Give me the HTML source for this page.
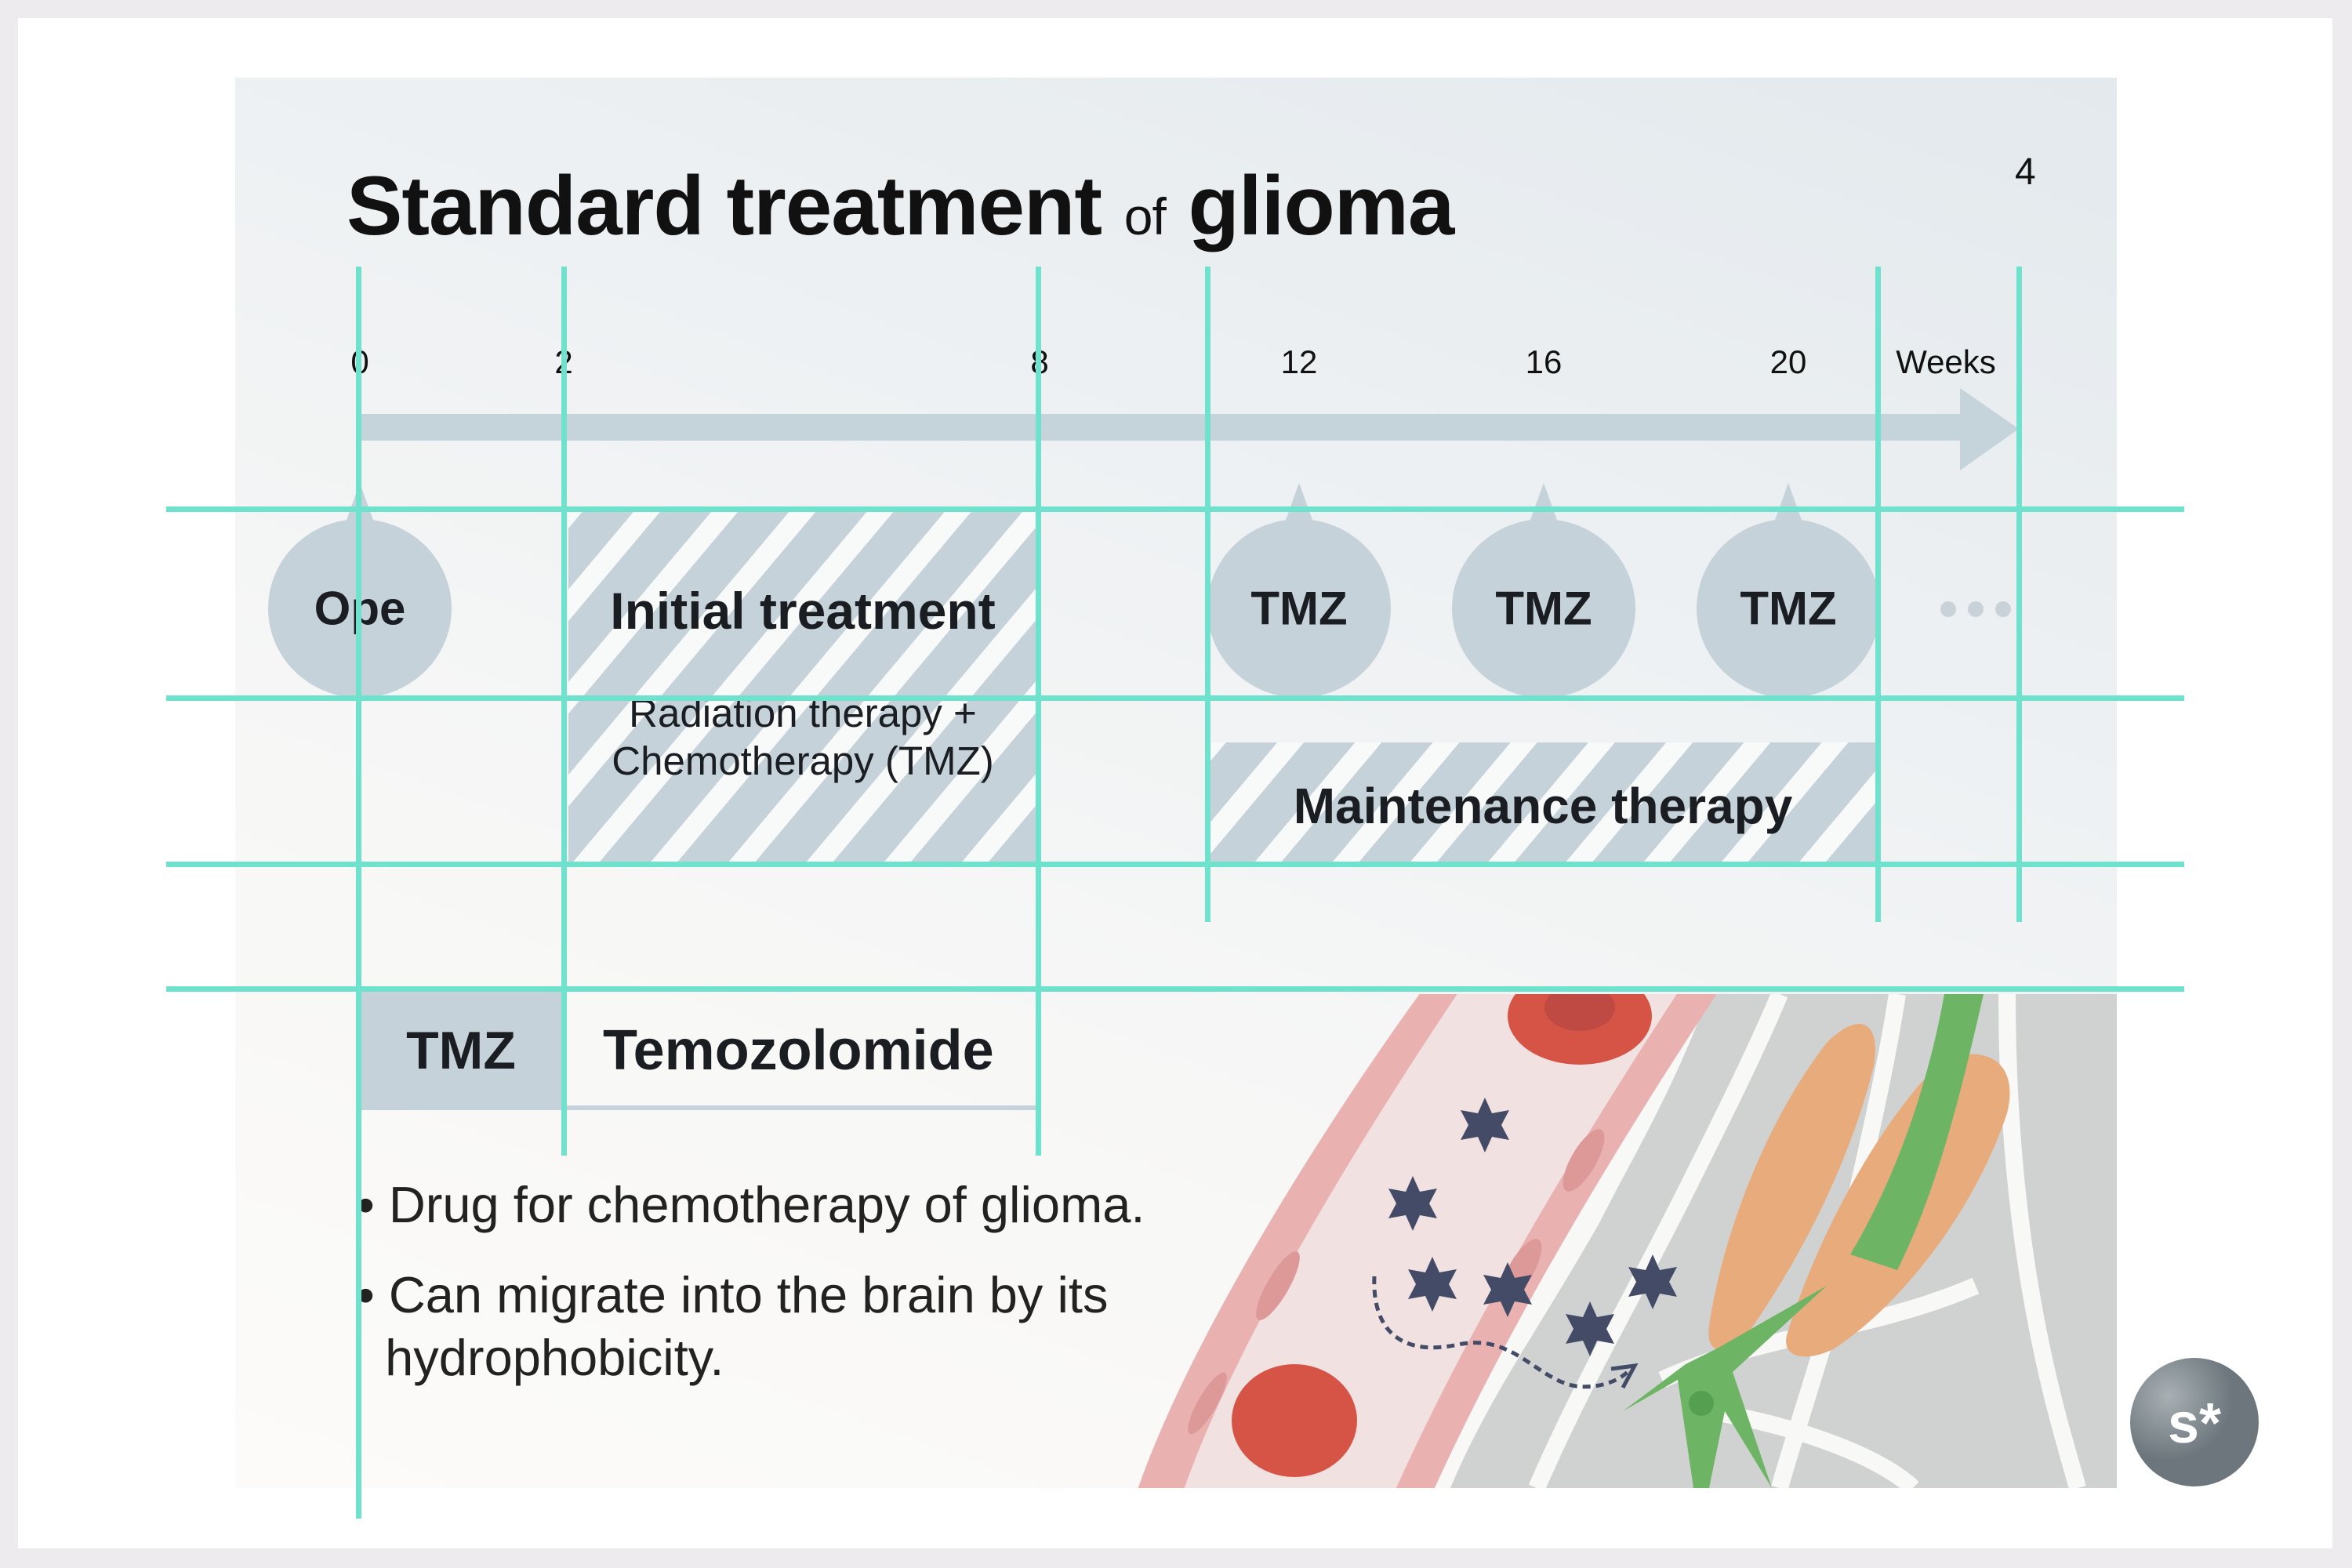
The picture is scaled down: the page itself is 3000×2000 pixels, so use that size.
<!DOCTYPE html>
<html><head><meta charset="utf-8"><style>
*{margin:0;padding:0;box-sizing:border-box}
body{width:3000px;height:2000px;background:#eeebee;position:relative;overflow:hidden;font-family:"Liberation Sans",sans-serif;color:#111}
.card{position:absolute;left:23px;top:23px;width:2952px;height:1952px;background:#fff}
.slide{position:absolute;left:300px;top:99px;width:2400px;height:1799px;background:linear-gradient(200deg,#e3e9ed 0%,#eef1f3 35%,#f7f7f6 65%,#fcfbf9 100%)}
.abs{position:absolute}
.vl{position:absolute;width:7px;background:#6ee2cd;margin-left:-3px}
.hl{position:absolute;height:7px;background:#6ee2cd;left:212px;width:2574px;margin-top:-3px}
.tick{position:absolute;top:438px;font-size:42px;transform:translateX(-50%)}
.circ{position:absolute;width:234px;height:228px;border-radius:50%;background:#c6d2d9;transform:translate(-50%,-50%);top:776px}
.tri{position:absolute;width:0;height:0;border-left:18px solid transparent;border-right:18px solid transparent;border-bottom:50px solid #c6d2d9;transform:translateX(-50%);top:616px}
.ctext{position:absolute;top:776px;transform:translate(-50%,-50%);font-size:60px;font-weight:bold;color:#1a1d22}
.hatch{position:absolute;background:repeating-linear-gradient(-50deg,#c6d2d9 0 50px,#f8f9f9 50px 76px)}
</style></head><body>
<div class="card"></div>
<div class="slide"></div>
<div class="abs" style="left:442px;top:200px;font-size:107px;font-weight:bold;color:#111;letter-spacing:-1px">Standard treatment <span style="font-weight:normal;font-size:66px">of</span> glioma</div>
<div class="abs" style="left:2570px;top:192px;font-size:48px">4</div>

<div class="abs" style="left:457px;top:528px;width:2060px;height:34px;background:#c5d3da"></div>
<svg class="abs" style="left:2500px;top:495px" width="80" height="105"><polygon points="0,0 75,52 0,105" fill="#c5d3da"/></svg>
<div class="tick" style="left:459px">0</div>
<div class="tick" style="left:719px">2</div>
<div class="tick" style="left:1326px">8</div>
<div class="tick" style="left:1657px">12</div>
<div class="tick" style="left:1969px">16</div>
<div class="tick" style="left:2281px">20</div>
<div class="tick" style="left:2482px">Weeks</div>

<div class="hatch" style="left:725px;top:652px;width:599px;height:450px"></div>
<div class="hatch" style="left:1544px;top:947px;width:848px;height:155px"></div>
<div class="abs" style="left:1024px;top:779px;transform:translate(-50%,-50%);font-size:66px;font-weight:bold;color:#1a1d22;white-space:nowrap">Initial treatment</div>
<div class="abs" style="left:1024px;top:940px;transform:translate(-50%,-50%);font-size:51px;color:#1a1d22;text-align:center;line-height:61px;white-space:nowrap">Radiation therapy +<br>Chemotherapy (TMZ)</div>
<div class="abs" style="left:1968px;top:1028px;transform:translate(-50%,-50%);font-size:64px;font-weight:bold;color:#1a1d22;white-space:nowrap">Maintenance therapy</div>

<div class="tri" style="left:459px"></div><div class="circ" style="left:459px"></div><div class="ctext" style="left:459px">Ope</div>
<div class="tri" style="left:1657px"></div><div class="circ" style="left:1657px"></div><div class="ctext" style="left:1657px">TMZ</div>
<div class="tri" style="left:1969px"></div><div class="circ" style="left:1969px"></div><div class="ctext" style="left:1969px">TMZ</div>
<div class="tri" style="left:2281px"></div><div class="circ" style="left:2281px"></div><div class="ctext" style="left:2281px">TMZ</div>
<svg class="abs" style="left:2470px;top:762px" width="110" height="30"><circle cx="15" cy="15" r="10" fill="#c9d2d8"/><circle cx="50" cy="15" r="10" fill="#c9d2d8"/><circle cx="85" cy="15" r="10" fill="#c9d2d8"/></svg>

<div class="abs" style="left:457px;top:1265px;width:262px;height:151px;background:#c6d2d9"></div>
<div class="abs" style="left:588px;top:1340px;transform:translate(-50%,-50%);font-size:68px;font-weight:bold;color:#1a1d22">TMZ</div>
<div class="abs" style="left:769px;top:1340px;transform:translateY(-50%);font-size:72px;font-weight:bold;color:#1a1d22">Temozolomide</div>
<div class="abs" style="left:719px;top:1410px;width:605px;height:6px;background:#c6d2d9"></div>

<div class="abs" style="left:455px;top:1498px;font-size:65px;color:#222;line-height:78px">• Drug for chemotherapy of glioma.</div>
<div class="abs" style="left:455px;top:1612px;font-size:65px;color:#222;line-height:80px">• Can migrate into the brain by its<br>&nbsp;&nbsp;hydrophobicity.</div>

<svg class="abs" style="left:0;top:0" width="3000" height="2000">
<defs><clipPath id="c"><rect x="1448" y="1268" width="1252" height="630"/></clipPath>
<radialGradient id="lg" cx="0.3" cy="0.3"><stop offset="0" stop-color="#a8b0b4"/><stop offset="1" stop-color="#6c767c"/></radialGradient></defs>
<g clip-path="url(#c)">
<polygon points="1860,1268 2700,1268 2700,1898 1900,1898" fill="#f8f8f6"/>
<path d="M1850,1898 C1900,1780 1960,1700 2040,1560 C2080,1480 2130,1400 2180,1268 L2700,1268 L2700,1898 Z" fill="#cfd2d1"/>
<g stroke="#f8f8f6" stroke-width="22" fill="none">
<path d="M1960,1898 C2020,1760 2080,1660 2150,1520 C2200,1420 2240,1340 2270,1268"/>
<path d="M2120,1760 C2250,1700 2380,1700 2520,1640"/>
<path d="M2420,1268 C2400,1400 2360,1550 2330,1700 C2300,1800 2280,1860 2270,1898"/>
<path d="M2560,1268 C2560,1400 2570,1550 2600,1700 C2620,1800 2640,1860 2650,1898"/>
<path d="M2180,1800 C2300,1820 2400,1860 2440,1898"/>
</g>
<path d="M2180,1690 C2200,1560 2260,1420 2330,1330 C2370,1290 2400,1300 2390,1360 C2360,1480 2300,1600 2230,1700 C2200,1730 2175,1730 2180,1690 Z" fill="#e8ab7c"/>
<path d="M2280,1700 C2320,1570 2400,1430 2470,1360 C2510,1330 2580,1340 2560,1420 C2520,1540 2430,1660 2340,1720 C2300,1740 2270,1730 2280,1700 Z" fill="#e8ab7c"/>
<path d="M2480,1268 L2530,1268 C2500,1400 2470,1520 2420,1620 L2360,1600 C2420,1500 2460,1380 2480,1268 Z" fill="#6db564"/>
<path d="M2160,1898 L2140,1760 L2070,1800 L2150,1740 L2190,1720 L2330,1640 L2210,1750 L2260,1898 L2200,1800 L2180,1898 Z" fill="#6db564"/>
<circle cx="2170" cy="1790" r="16" fill="#55a050"/>
<path d="M1451,1900 C1520,1700 1700,1420 1812,1266 L2191,1266 C2050,1480 1920,1700 1829,1900 Z" fill="#e9b2b1"/>
<path d="M1510,1900 C1580,1700 1750,1430 1860,1266 L2140,1266 C2000,1480 1870,1700 1780,1900 Z" fill="#f1e1e1"/>
<g fill="#dd9898">
<ellipse cx="1630" cy="1640" rx="14" ry="50" transform="rotate(30 1630 1640)"/>
<ellipse cx="1540" cy="1790" rx="12" ry="45" transform="rotate(30 1540 1790)"/>
<ellipse cx="2020" cy="1480" rx="16" ry="45" transform="rotate(30 2020 1480)"/>
<ellipse cx="1940" cy="1620" rx="16" ry="45" transform="rotate(30 1940 1620)"/>
</g>
<ellipse cx="2015" cy="1296" rx="92" ry="62" fill="#d65445"/>
<ellipse cx="2015" cy="1285" rx="45" ry="30" fill="#bf4a43"/>
<ellipse cx="1651" cy="1812" rx="80" ry="72" fill="#d65445"/>
<g fill="#434b66">
<polygon points="1894,1400 1903,1420 1925,1416 1915,1435 1925,1454 1903,1450 1894,1470 1885,1450 1863,1454 1873,1435 1863,1416 1885,1420"/>
<polygon points="1802,1500 1811,1520 1833,1516 1823,1535 1833,1554 1811,1550 1802,1570 1793,1550 1771,1554 1781,1535 1771,1516 1793,1520"/>
<polygon points="1827,1603 1836,1623 1858,1619 1848,1638 1858,1657 1836,1653 1827,1673 1818,1653 1796,1657 1806,1638 1796,1619 1818,1623"/>
<polygon points="1923,1610 1932,1630 1954,1626 1944,1645 1954,1664 1932,1660 1923,1680 1914,1660 1892,1664 1902,1645 1892,1626 1914,1630"/>
<polygon points="2028,1660 2037,1680 2059,1676 2049,1695 2059,1714 2037,1710 2028,1730 2019,1710 1997,1714 2007,1695 1997,1676 2019,1680"/>
<polygon points="2108,1600 2117,1620 2139,1616 2129,1635 2139,1654 2117,1650 2108,1670 2099,1650 2077,1654 2087,1635 2077,1616 2099,1620"/>
</g>
<path d="M1753,1628 C1750,1700 1790,1730 1860,1715 C1930,1700 1960,1760 2010,1768 C2040,1772 2070,1760 2080,1745" stroke="#434b66" stroke-width="5" stroke-dasharray="10,7" fill="none"/>
<path d="M2055,1746 L2085,1742 L2070,1770" stroke="#434b66" stroke-width="5" fill="none"/>
</g>
<circle cx="2799" cy="1814" r="82" fill="url(#lg)"/>
<text x="2799" y="1840" font-family="Liberation Sans" font-weight="bold" font-size="72" fill="#fff" text-anchor="middle">s*</text>
</svg>

<div class="vl" style="left:457px;top:340px;height:1597px"></div>
<div class="vl" style="left:719px;top:340px;height:1134px"></div>
<div class="vl" style="left:1324px;top:340px;height:1134px"></div>
<div class="vl" style="left:1540px;top:340px;height:836px"></div>
<div class="vl" style="left:2395px;top:340px;height:836px"></div>
<div class="vl" style="left:2575px;top:340px;height:836px"></div>
<div class="hl" style="top:649px"></div>
<div class="hl" style="top:890px"></div>
<div class="hl" style="top:1102px"></div>
<div class="hl" style="top:1261px"></div>
</body></html>
